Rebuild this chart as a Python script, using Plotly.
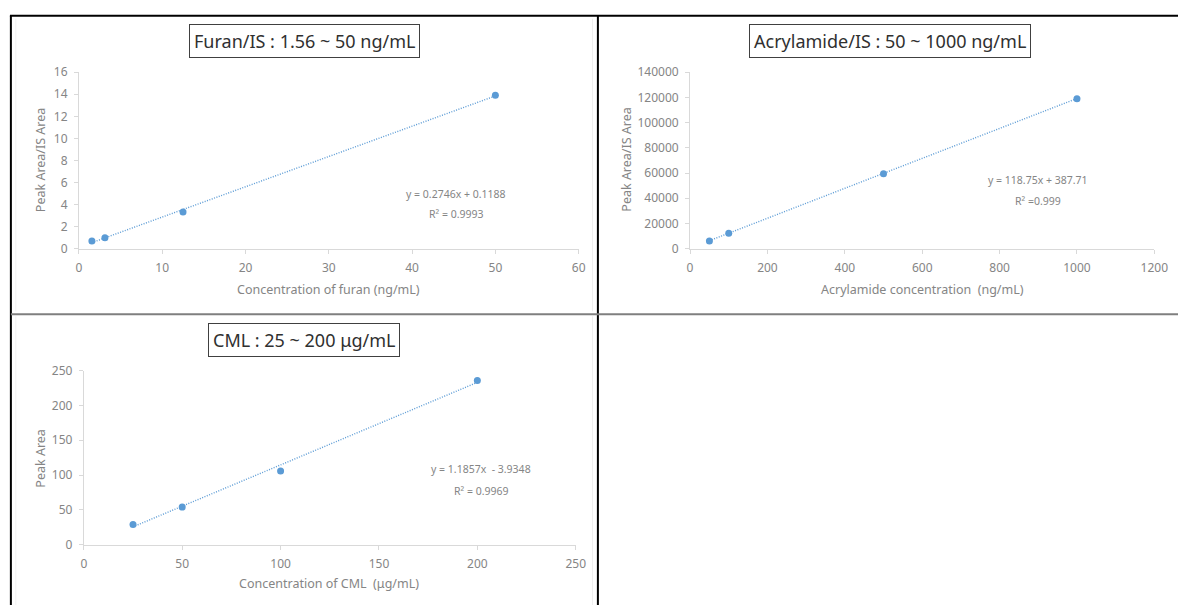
import plotly.graph_objects as go

# ---- data -------------------------------------------------------------
furan_conc = [1.56, 3.125, 12.5, 50]
furan_ratio = [0.70, 0.98, 3.32, 13.9]
furan_slope, furan_icpt, furan_r2 = 0.2746, 0.1188, "0.9993"

acryl_conc = [50, 100, 500, 1000]
acryl_ratio = [6100, 12300, 59400, 118900]
acryl_slope, acryl_icpt, acryl_r2 = 118.75, 387.71, "0.999"

cml_conc = [25, 50, 100, 200]
cml_area = [29, 54, 106, 236]
cml_slope, cml_icpt, cml_r2 = 1.1857, -3.9348, "0.9969"

W, H = 1192, 613
BLUE = "#5b9bd5"
TICK_GRAY = "#858585"
AXIS_GRAY = "#d9d9d9"
FONT = "Noto Sans"


def px(x):
    return x / W


def py(y):
    return 1 - y / H


fig = go.Figure()


def add_panel(idx, xs, ys, slope, icpt, xdom, ydom, xrange, xdtick, yrange, ydtick):
    xa = "x" if idx == 1 else f"x{idx}"
    ya = "y" if idx == 1 else f"y{idx}"
    fig.add_trace(go.Scatter(
        x=[min(xs), max(xs)],
        y=[slope * min(xs) + icpt, slope * max(xs) + icpt],
        mode="lines", line=dict(color=BLUE, width=1.4, dash="1px,1.5px"),
        xaxis=xa, yaxis=ya, showlegend=False, hoverinfo="skip"))
    fig.add_trace(go.Scatter(
        x=xs, y=ys, mode="markers",
        marker=dict(color=BLUE, size=7),
        xaxis=xa, yaxis=ya, showlegend=False))
    axis_common = dict(showline=True, linecolor=AXIS_GRAY, linewidth=1,
                       ticks="outside", ticklen=4, tickcolor=AXIS_GRAY,
                       showgrid=False, zeroline=False, tickformat="d",
                       tickfont=dict(family=FONT, size=12, color=TICK_GRAY))
    xkey = "xaxis" if idx == 1 else f"xaxis{idx}"
    ykey = "yaxis" if idx == 1 else f"yaxis{idx}"
    fig.update_layout(**{
        xkey: dict(domain=[px(xdom[0]), px(xdom[1])], range=xrange,
                   dtick=xdtick, tick0=0, anchor=ya, ticklabelstandoff=4,
                   **axis_common),
        ykey: dict(domain=[py(ydom[1]), py(ydom[0])], range=yrange,
                   dtick=ydtick, tick0=0, anchor=xa, ticklabelstandoff=4,
                   **axis_common),
    })


add_panel(1, furan_conc, furan_ratio, furan_slope, furan_icpt,
          (77, 584), (65, 246.5), [0, 60], 10, [0, 16], 2)
add_panel(2, acryl_conc, acryl_ratio, acryl_slope, acryl_icpt,
          (697, 1168), (65, 246.5), [0, 1200], 200, [0, 140000], 20000)
add_panel(3, cml_conc, cml_area, cml_slope, cml_icpt,
          (82, 581), (372, 551), [0, 250], 50, [0, 250], 50)

ann = []


def text(x, y, s, size=12.5, color=TICK_GRAY, angle=0, **kw):
    ann.append(dict(x=px(x), y=py(y), xref="paper", yref="paper", text=s,
                    showarrow=False, textangle=angle,
                    font=dict(family=FONT, size=size, color=color),
                    xanchor="center", yanchor="middle", **kw))


def title_box(x, y, s):
    text(x, y, s, size=18, color="#303030", bordercolor="#404040",
         borderwidth=1, borderpad=4, bgcolor="white")


# panel titles
title_box(306, 33, "Furan/IS : 1.56 ~ 50 ng/mL")
title_box(900, 33, "Acrylamide/IS : 50 ~ 1000 ng/mL")
title_box(305.5, 340, "CML : 25 ~ 200 μg/mL")

# axis titles
text(330, 288, "Concentration of furan (ng/mL)")
text(38, 155, "Peak Area/IS Area", angle=-90)
text(933, 288, "Acrylamide concentration  (ng/mL)")
text(633, 155, "Peak Area/IS Area", angle=-90)
text(331, 591, "Concentration of CML  (μg/mL)")
text(38, 462, "Peak Area", angle=-90)

# regression equations
text(460, 190, f"y = {furan_slope}x + {furan_icpt}", size=10.5)
text(460, 211, f"R² = {furan_r2}", size=10.5)
text(1050, 176, f"y = {acryl_slope}x + {acryl_icpt}", size=10.5)
text(1050, 197, f"R² ={acryl_r2}", size=10.5)
text(485, 473, f"y = {cml_slope}x  - {abs(cml_icpt)}", size=10.5)
text(485, 496, f"R² = {cml_r2}", size=10.5)

# frame lines between the panels
shapes = []


def line(x0, y0, x1, y1, color, width):
    shapes.append(dict(type="line", xref="paper", yref="paper",
                       x0=px(x0), y0=py(y0), x1=px(x1), y1=py(y1),
                       line=dict(color=color, width=width)))


# faint chart-area borders
line(598, 10, 598, 311, "#eeeeee", 1)
line(13, 10, 13, 311, "#f2f2f2", 1)
line(13, 316, 13, 613, "#f2f2f2", 1)
line(598, 316, 598, 613, "#eeeeee", 1)

line(7, 7, W, 7, "black", 2)
line(8, 7, 8, H, "black", 2)
line(603.5, 7, 603.5, H, "black", 2)
line(8, 314, W, 314, "#7f7f7f", 2)

fig.update_layout(width=W, height=H, margin=dict(l=0, r=0, t=0, b=0),
                  paper_bgcolor="white", plot_bgcolor="white",
                  annotations=ann, shapes=shapes,
                  font=dict(family=FONT))

fig.write_html("out.html")
